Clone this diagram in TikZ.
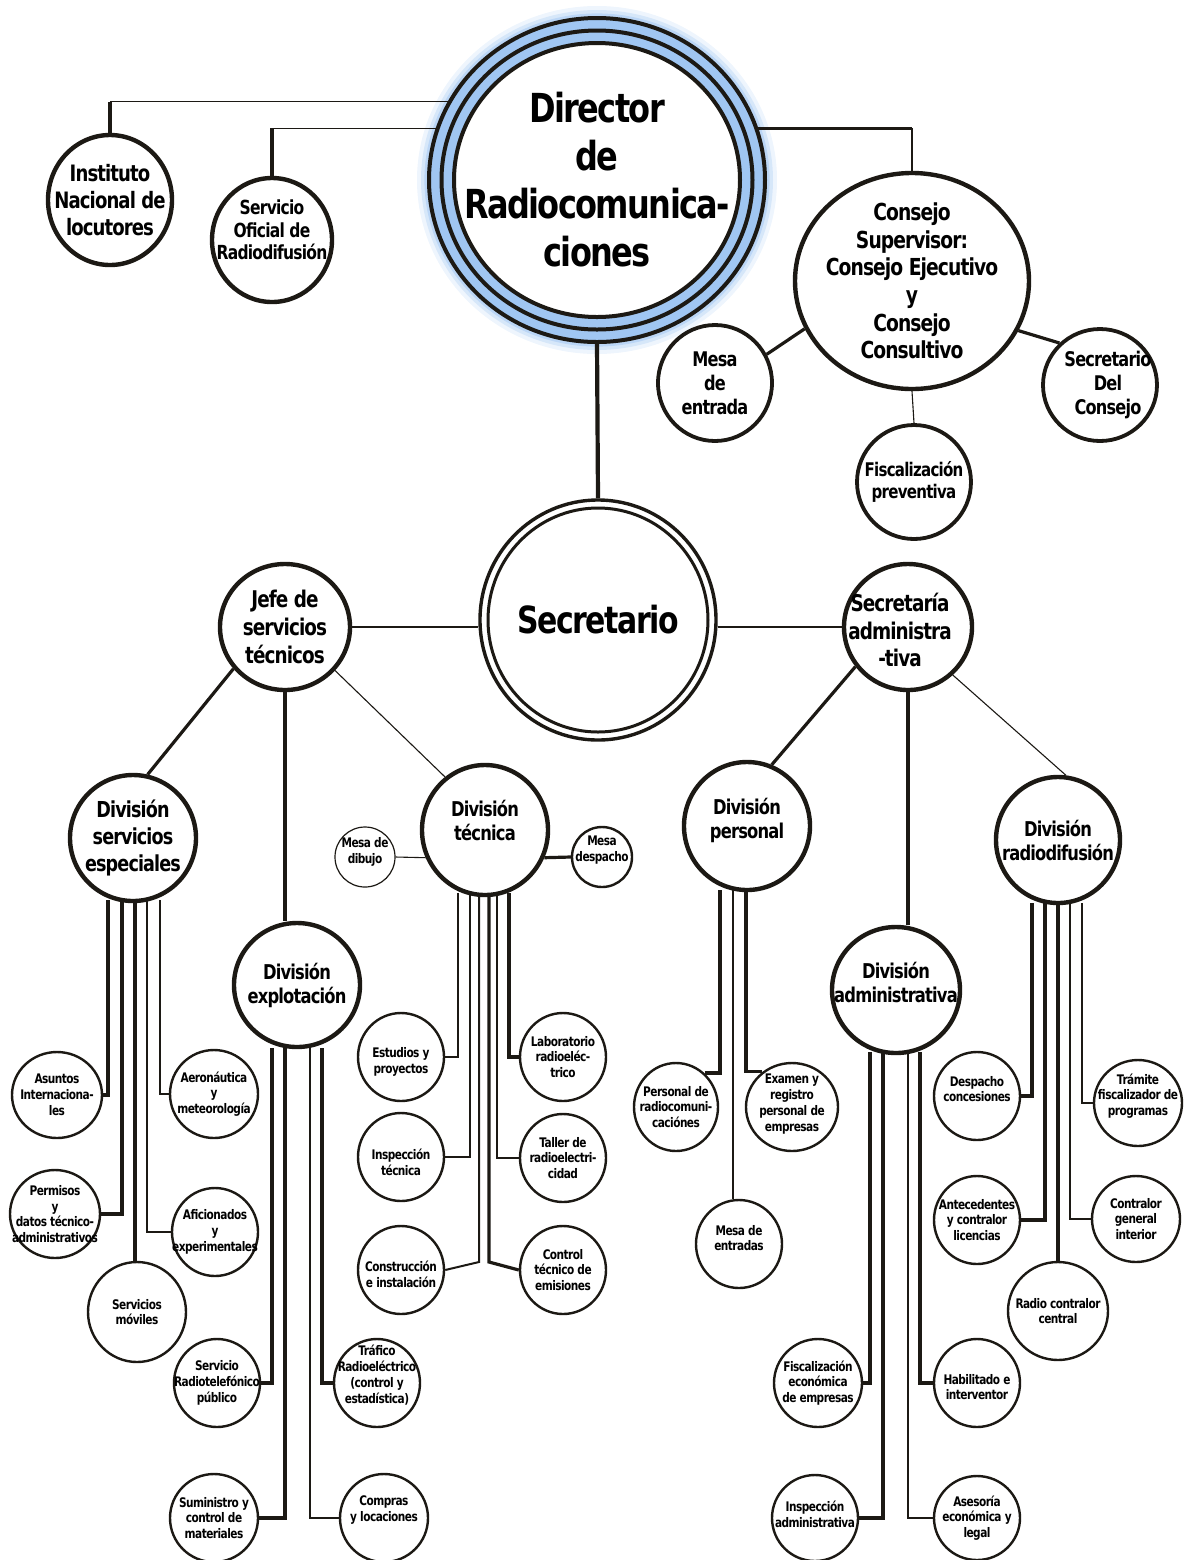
\documentclass[tikz,border=0pt]{standalone}
\usepackage{fontspec}
\setmainfont{DejaVu Sans}[FakeStretch=0.8,LetterSpace=-4]
\usetikzlibrary{shapes.geometric}
\definecolor{ink}{RGB}{28,25,20}
\definecolor{ringblue}{RGB}{160,198,242}
\tikzset{
  el/.style={ellipse, draw=ink, fill=white, inner sep=0pt},
  big/.style={el, line width=2.2pt},
  med/.style={el, line width=1.9pt},
  sml/.style={el, line width=1.2pt},
  hair/.style={el, line width=0.6pt},
  tx/.style={align=center, inner sep=0pt, text=black},
  tDir/.style={tx, font=\bfseries\fontsize{20}{24}\selectfont},
  tSec/.style={tx, font=\bfseries\fontsize{18.7}{22}\selectfont},
  tCon/.style={tx, font=\bfseries\fontsize{11.7}{13.8}\selectfont},
  tIns/.style={tx, font=\bfseries\fontsize{11.3}{13.3}\selectfont},
  tSof/.style={tx, font=\bfseries\fontsize{9.7}{11.2}\selectfont},
  tJef/.style={tx, font=\bfseries\fontsize{11.5}{13.8}\selectfont},
  tDse/.style={tx, font=\bfseries\fontsize{11}{13.5}\selectfont},
  tDiv/.style={tx, font=\bfseries\fontsize{10.2}{12}\selectfont},
  tMed/.style={tx, font=\bfseries\fontsize{10.1}{12}\selectfont},
  tFp/.style={tx, font=\bfseries\fontsize{9.4}{11}\selectfont},
  tS/.style={tx, font=\bfseries\fontsize{6.6}{7.9}\selectfont},
  cT/.style={draw=ink, line width=0.55pt},
  cM/.style={draw=ink, line width=1pt},
  cK/.style={draw=ink, line width=1.6pt},
  cX/.style={draw=ink, line width=2.1pt},
}
\newcommand\cn[8]{%
  \node[#2, minimum width=#5pt, minimum height=#6pt] (#1) at (#3,#4) {};
  \node[#7] (#1-t) at (#1) {#8};}
\begin{document}
\begin{tikzpicture}[x=0.5pt,y=-0.5pt]
\useasboundingbox (0,0) rectangle (1188,1560);
% Director
\node[ellipse, inner sep=0pt, minimum width=168pt, minimum height=162pt] (dir) at (597,180) {};
\fill[ringblue, opacity=0.18] (dir.center) ellipse [x radius=90pt, y radius=87pt];
\fill[ringblue, opacity=0.3] (dir.center) ellipse [x radius=88pt, y radius=85pt];
\fill[ringblue, opacity=0.5] (dir.center) ellipse [x radius=86.3pt, y radius=83.3pt];
\fill[ringblue] (dir.center) ellipse [x radius=84pt, y radius=81pt];
\fill[white] (dir.center) ellipse [x radius=71.5pt, y radius=68.5pt];
\foreach \ra/\rb in {84/81, 77.75/74.75, 71.5/68.5}
  \draw[ink, line width=2pt] (dir.center) ellipse [x radius=\ra pt, y radius=\rb pt];
\node[tDir] (dir-t) at (dir) {Director\\de\\Radiocomunica-\\ciones};
% top row
\cn{ins}{big}{110}{200}{62}{65}{tIns}{Instituto\\Nacional de\\locutores}
\cn{sof}{big}{272}{240}{60}{62}{tSof, yshift=5pt}{Servicio\\Oficial de\\Radiodifusión}
\cn{cons}{big}{912}{281}{117}{108}{tCon}{Consejo\\Supervisor:\\Consejo Ejecutivo\\y\\Consejo\\Consultivo}
\cn{mes}{med}{715}{383}{57}{58}{tMed}{Mesa\\de\\entrada}
\cn{sdc}{med}{1100}{385}{57}{56}{tMed, xshift=4pt}{Secretario\\Del\\Consejo}
\cn{fp}{med}{914}{482}{57}{57}{tFp}{Fiscalización\\preventiva}
% Secretario
\node[el, line width=1.7pt, minimum width=118pt, minimum height=120pt] (sec) at (598,620) {};
\draw[ink, line width=1.5pt] (sec.center) ellipse [x radius=55pt, y radius=56pt];
\node[tSec] (sec-t) at (sec) {Secretario};
\cn{jefe}{big}{285}{627}{65}{63}{tJef}{Jefe de\\servicios\\técnicos}
\cn{sadm}{big}{908}{627}{64}{63}{tJef, xshift=-4pt, yshift=-1.5pt}{Secretaría\\administra\\-tiva}
\cn{dse}{big}{133}{838}{63}{63}{tDse}{División\\servicios\\especiales}
\cn{dt}{big}{485}{830}{63}{65}{tDiv, yshift=5pt}{División\\técnica}
\cn{md}{hair}{365}{857}{30}{30}{tS, yshift=2.5pt}{Mesa de\\dibujo}
\cn{mdes}{sml}{602}{857}{30}{30}{tS, yshift=3.5pt}{Mesa\\despacho}
\cn{dex}{big}{297}{985}{63}{62}{tDiv}{División\\explotación}
\cn{dp}{big}{747}{826}{63}{64}{tDiv, yshift=3pt}{División\\personal}
\cn{dr}{big}{1058}{840}{62}{63}{tDiv}{División\\radiodifusión}
\cn{da}{big}{896}{990}{64}{63}{tDiv, yshift=4pt}{División\\administrativa}
% small nodes
\cn{ase}{sml}{57}{1095}{45}{43}{tS}{Asuntos\\Internaciona-\\les}
\cn{perm}{sml}{55}{1214}{45}{44}{tS}{Permisos\\y\\datos técnico-\\administrativos}
\cn{smo}{sml}{137}{1312}{49}{50}{tS}{Servicios\\móviles}
\cn{aer}{sml}{214}{1094}{44}{44}{tS}{Aeronáutica\\y\\meteorología}
\cn{afi}{sml}{215}{1232}{43}{44}{tS}{Aficionados\\y\\experimentales}
\cn{srp}{sml}{217}{1383}{43}{44}{tS}{Servicio\\Radiotelefónico\\público}
\cn{sum}{sml}{214}{1518}{44}{44}{tS}{Suministro y\\control de\\materiales}
\cn{tra}{sml}{377}{1383}{43}{44}{tS, yshift=4pt}{Tráfico\\Radioeléctrico\\(control y\\estadística)}
\cn{com}{sml}{384}{1518}{44}{44}{tS, yshift=4pt}{Compras\\y locaciones}
\cn{est}{sml}{401}{1057}{43}{44}{tS, yshift=-2.5pt}{Estudios y\\proyectos}
\cn{ite}{sml}{401}{1157}{43}{44}{tS, yshift=-2.5pt}{Inspección\\técnica}
\cn{con}{sml}{401}{1270}{43}{44}{tS, yshift=-2pt}{Construcción\\e instalación}
\cn{lab}{sml}{563}{1057}{43}{44}{tS}{Laboratorio\\radioeléc-\\trico}
\cn{tal}{sml}{563}{1158}{43}{44}{tS}{Taller de\\radioelectri-\\cidad}
\cn{ctl}{sml}{563}{1270}{43}{44}{tS}{Control\\técnico de\\emisiones}
\cn{prc}{sml}{676}{1107}{42}{44}{tS}{Personal de\\radiocomuni-\\caciónes}
\cn{exa}{sml}{792}{1107}{46}{44}{tS, yshift=1.5pt}{Examen y\\registro\\personal de\\empresas}
\cn{mde}{sml}{739}{1244}{43}{44}{tS, yshift=3pt}{Mesa de\\entradas}
\cn{fec}{sml}{818}{1383}{44}{44}{tS}{Fiscalización\\económica\\de empresas}
\cn{iad}{sml}{815}{1518}{43}{43}{tS, yshift=2pt}{Inspección\\administrativa}
\cn{hab}{sml}{977}{1383}{43}{44}{tS, yshift=-2pt}{Habilitado e\\interventor}
\cn{aec}{sml}{977}{1518}{43}{42}{tS}{Asesoría\\económica y\\legal}
\cn{dco}{sml}{977}{1096}{43}{44}{tS, yshift=3.5pt}{Despacho\\concesiones}
\cn{ant}{sml}{977}{1220}{43}{44}{tS}{Antecedentes\\y contralor\\licencias}
\cn{rcc}{sml}{1058}{1311}{50}{49}{tS}{Radio contralor\\central}
\cn{tfp}{sml}{1138}{1103}{44}{43}{tS, yshift=3.5pt}{Trámite\\fiscalizador de\\programas}
\cn{cgi}{sml}{1136}{1219}{44}{43}{tS}{Contralor\\general\\interior}
% top connectors
\draw[cK] (ins.north) -- (ins.north |- dir.152);
\draw[cT] (ins.north |- dir.152) -- (dir.152);
\draw[cK] (sof.north) -- (sof.north |- dir.162);
\draw[cT] (sof.north |- dir.162) -- (dir.162);
\draw[cK] (dir.18) -- (dir.18 -| cons.north);
\draw[cT] (dir.18 -| cons.north) -- (cons.north);
\draw[cK] (mes.29) -- (cons.204);
\draw[cK] (cons.335) -- (sdc.134);
\draw[cT] (cons.south) -- (fp.north);
\draw[cX] (dir.south) -- (sec.north);
\draw[cT] (jefe.east) -- (jefe.east -| sec.west);
\draw[cT] (sadm.west) -- (sadm.west -| sec.east);
\draw[cK] (jefe.219) -- (dse.77);
\draw[cK] (jefe.south) -- (jefe.south |- dex.north);
\draw[cT] (jefe.319) -- (dt.127);
\draw[cK] (sadm.217) -- (dp.68);
\draw[cK] (sadm.south) -- (sadm.south |- da.north);
\draw[cT] (sadm.313) -- (dr.83);
\draw[cT] (md.east) -- (dt.205);
\draw[cK] (dt.335) -- (mdes.west);
% bus: servicios especiales
\coordinate (se1) at (108,900);
\coordinate (se2) at (122,900);
\coordinate (se3) at (135,900);
\coordinate (se4) at (147,900);
\coordinate (se5) at (160,900);
\draw[cK] (ase.east) -| (se1);
\draw[cK] (perm.east) -| (se2);
\draw[cK] (smo.north -| se3) -- (se3);
\draw[cM] (afi.west) -| (se4);
\draw[cT] (aer.west) -| (se5);
% bus: explotacion
\coordinate (ex1) at (272,1048);
\coordinate (ex2) at (285,1048);
\coordinate (ex3) at (310,1048);
\coordinate (ex4) at (322,1048);
\draw[cK] (srp.east) -| (ex1);
\draw[cK] (sum.east) -| (ex2);
\draw[cT] (com.west) -| (ex3);
\draw[cK] (tra.west) -| (ex4);
% bus: tecnica
\coordinate (t1) at (458,893);
\coordinate (t2) at (470,893);
\coordinate (t3) at (479,893);
\coordinate (t4) at (489,893);
\coordinate (t5) at (497,893);
\coordinate (t6) at (509,893);
\coordinate (t3b) at (479,1262);
\coordinate (t4b) at (489,1262);
\draw[cM] (est.east) -| (t1);
\draw[cM] (ite.east) -| (t2);
\draw[cM] (con.east) -- (t3b) -- (t3);
\draw[cK] (ctl.west) -- (t4b) -- (t4);
\draw[cT] (tal.west) -| (t5);
\draw[cK] (lab.west) -| (t6);
% bus: personal
\coordinate (p1) at (720,890);
\coordinate (p2) at (733,890);
\coordinate (p3) at (746,890);
\draw[cK] (prc.50) -| (p1);
\draw[cM] (p2) -- (p2 |- mde.north);
\draw[cK] (exa.130) -| (p3);
% bus: administrativa
\coordinate (a1) at (870,1052);
\coordinate (a2) at (883,1052);
\coordinate (a3) at (908,1052);
\coordinate (a4) at (920,1052);
\draw[cK] (fec.east) -| (a1);
\draw[cK] (iad.east) -| (a2);
\draw[cT] (aec.west) -| (a3);
\draw[cK] (hab.west) -| (a4);
% bus: radiodifusion
\coordinate (r1) at (1032,903);
\coordinate (r2) at (1045,903);
\coordinate (r3) at (1058,903);
\coordinate (r4) at (1070,903);
\coordinate (r5) at (1082,903);
\draw[cK] (dco.east) -| (r1);
\draw[cK] (ant.east) -| (r2);
\draw[cK] (r3) -- (r3 |- rcc.north);
\draw[cM] (cgi.west) -| (r4);
\draw[cT] (tfp.west) -| (r5);
\end{tikzpicture}
\end{document}
